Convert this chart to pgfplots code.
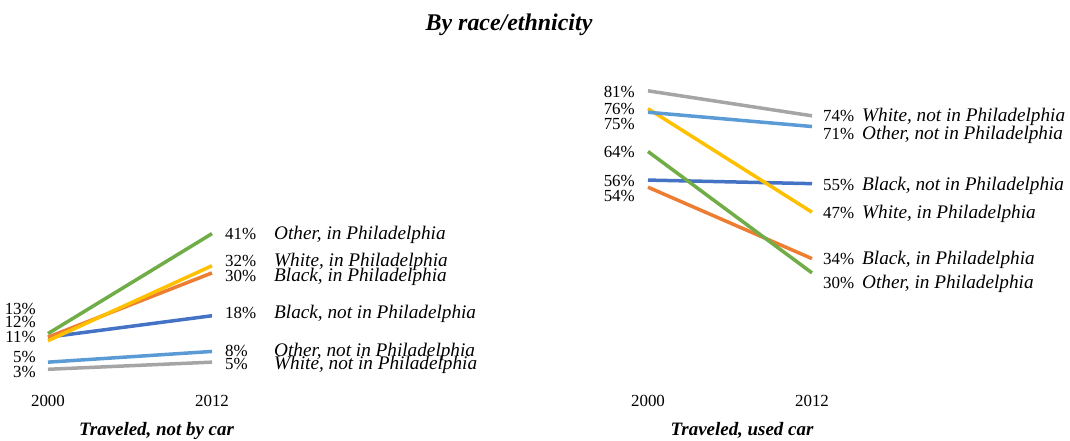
\documentclass[border=0pt]{standalone}
\usepackage{fontspec}
\setmainfont{Liberation Serif}
\usepackage{pgfplots}
\pgfplotsset{compat=1.18}

\definecolor{cBlackNot}{HTML}{4472C4}
\definecolor{cBlackIn}{HTML}{ED7D31}
\definecolor{cWhiteNot}{HTML}{A5A5A5}
\definecolor{cWhiteIn}{HTML}{FFC000}
\definecolor{cOtherNot}{HTML}{5B9BD5}
\definecolor{cOtherIn}{HTML}{70AD47}

\newcommand{\lblfont}{\fontsize{17}{20}\selectfont}
\newcommand{\namefont}{\fontsize{19.3}{22}\selectfont\itshape}

\pgfplotsset{
  slope/.style={
    width=164bp, height=357bp, scale only axis,
    xmin=2000, xmax=2012, ymin=0, ymax=100,
    axis x line*=bottom, axis y line=none,
    x axis line style={draw=none},
    xtick={2000,2012}, major tick length=0pt,
    xticklabel style={font=\lblfont, yshift=-12bp,
      /pgf/number format/1000 sep={},
      /pgf/number format/assume math mode=true},
    every axis plot/.append style={line width=3.5bp, no markers},
    clip=false,
  },
}
% start labels (right aligned left of 2000), end labels (number + series name)
\tikzset{
  startlab/.style={anchor=base east, inner sep=0pt, font=\lblfont, xshift=-12bp, yshift=-5.8bp},
  numlab/.style={anchor=base west, inner sep=0pt, font=\lblfont, yshift=-5.8bp},
  namelab/.style={anchor=base west, inner sep=0pt, font=\namefont, yshift=-5.8bp},
}

\begin{document}
\begin{tikzpicture}
\path[use as bounding box] (0,0) rectangle (1070bp,441bp);

\node[anchor=base, font=\fontsize{24}{28}\selectfont\bfseries\itshape] at (509bp,410bp) {By race/ethnicity};

% ---------------- Traveled, not by car ----------------
\begin{axis}[slope, at={(48bp,61bp)}, anchor=south west]
  \addplot[cBlackNot] coordinates {(2000,12) (2012,18)};
  \addplot[cBlackIn]  coordinates {(2000,12) (2012,30)};
  \addplot[cWhiteNot] coordinates {(2000,3)  (2012,5)};
  \addplot[cWhiteIn]  coordinates {(2000,11) (2012,32)};
  \addplot[cOtherNot] coordinates {(2000,5)  (2012,8)};
  \addplot[cOtherIn]  coordinates {(2000,13) (2012,41)};

  \node[startlab] at (axis cs:2000,19.9) {13\%};
  \node[startlab] at (axis cs:2000,16.2) {12\%};
  \node[startlab] at (axis cs:2000,12.0) {11\%};
  \node[startlab] at (axis cs:2000,6.4)  {5\%};
  \node[startlab] at (axis cs:2000,2.2)  {3\%};

  \node[numlab, xshift=13bp] at (axis cs:2012,41.0) {41\%};
  \node[numlab, xshift=13bp] at (axis cs:2012,33.3) {32\%};
  \node[numlab, xshift=13bp] at (axis cs:2012,29.1) {30\%};
  \node[numlab, xshift=13bp] at (axis cs:2012,18.8) {18\%};
  \node[numlab, xshift=13bp] at (axis cs:2012,8.1)  {8\%};
  \node[numlab, xshift=13bp] at (axis cs:2012,4.5)  {5\%};

  \node[namelab, xshift=62bp] at (axis cs:2012,41.0) {Other, in Philadelphia};
  \node[namelab, xshift=62bp] at (axis cs:2012,33.3) {White, in Philadelphia};
  \node[namelab, xshift=62bp] at (axis cs:2012,29.1) {Black, in Philadelphia};
  \node[namelab, xshift=62bp] at (axis cs:2012,18.8) {Black, not in Philadelphia};
  \node[namelab, xshift=62bp] at (axis cs:2012,8.1)  {Other, not in Philadelphia};
  \node[namelab, xshift=62bp] at (axis cs:2012,4.5)  {White, not in Philadelphia};
\end{axis}

% ---------------- Traveled, used car ----------------
\begin{axis}[slope, at={(648bp,61bp)}, anchor=south west]
  \addplot[cBlackNot] coordinates {(2000,56) (2012,55)};
  \addplot[cBlackIn]  coordinates {(2000,54) (2012,34)};
  \addplot[cWhiteNot] coordinates {(2000,81) (2012,74)};
  \addplot[cWhiteIn]  coordinates {(2000,76) (2012,47)};
  \addplot[cOtherNot] coordinates {(2000,75) (2012,71)};
  \addplot[cOtherIn]  coordinates {(2000,64) (2012,30)};

  \node[startlab, xshift=-1bp] at (axis cs:2000,80.7) {81\%};
  \node[startlab, xshift=-1bp] at (axis cs:2000,75.9) {76\%};
  \node[startlab, xshift=-1bp] at (axis cs:2000,71.7) {75\%};
  \node[startlab, xshift=-1bp] at (axis cs:2000,63.9) {64\%};
  \node[startlab, xshift=-1bp] at (axis cs:2000,55.7) {56\%};
  \node[startlab, xshift=-1bp] at (axis cs:2000,51.5) {54\%};

  \node[numlab, xshift=11bp] at (axis cs:2012,73.9) {74\%};
  \node[numlab, xshift=11bp] at (axis cs:2012,68.9) {71\%};
  \node[numlab, xshift=11bp] at (axis cs:2012,54.6) {55\%};
  \node[numlab, xshift=11bp] at (axis cs:2012,46.8) {47\%};
  \node[numlab, xshift=11bp] at (axis cs:2012,33.9) {34\%};
  \node[numlab, xshift=11bp] at (axis cs:2012,27.2) {30\%};

  \node[namelab, xshift=50bp] at (axis cs:2012,73.9) {White, not in Philadelphia};
  \node[namelab, xshift=50bp] at (axis cs:2012,68.9) {Other, not in Philadelphia};
  \node[namelab, xshift=50bp] at (axis cs:2012,54.6) {Black, not in Philadelphia};
  \node[namelab, xshift=50bp] at (axis cs:2012,46.8) {White, in Philadelphia};
  \node[namelab, xshift=50bp] at (axis cs:2012,33.9) {Black, in Philadelphia};
  \node[namelab, xshift=50bp] at (axis cs:2012,27.2) {Other, in Philadelphia};
\end{axis}

\node[anchor=base, font=\fontsize{19}{22}\selectfont\bfseries\itshape] at (156.5bp,6bp) {Traveled, not by car};
\node[anchor=base, font=\fontsize{19}{22}\selectfont\bfseries\itshape] at (742bp,6bp) {Traveled, used car};
\end{tikzpicture}
\end{document}
